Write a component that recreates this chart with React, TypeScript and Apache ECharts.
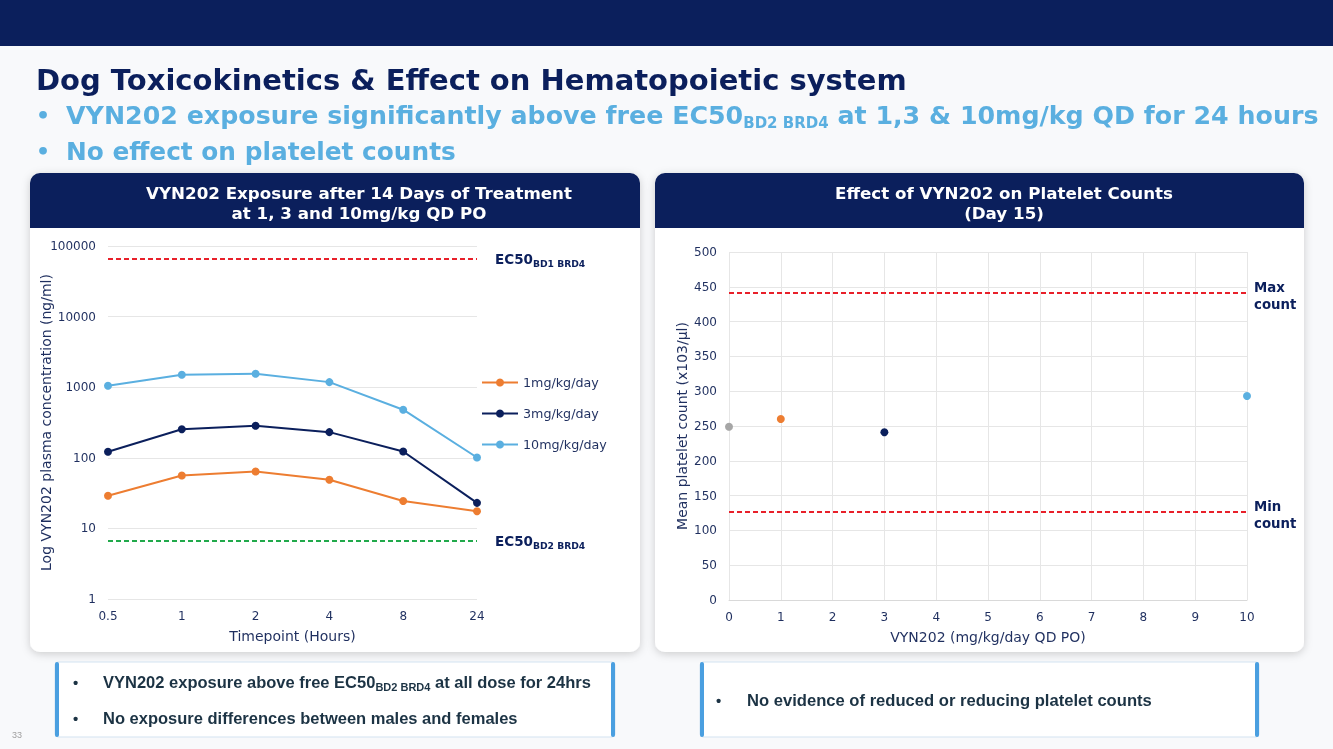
import React, { useEffect, useRef } from 'react';
import * as echarts from 'echarts';

// ---------- data ----------
const timepoints = ['0.5', '1', '2', '4', '8', '24'];
const seriesNames = ['1mg/kg/day', '3mg/kg/day', '10mg/kg/day'];
const dose1 = [29, 56, 64, 49, 24.5, 17.5];
const dose3 = [122, 254, 284, 231, 123, 23];
const dose10 = [1050, 1500, 1550, 1180, 480, 101];
const ec50BD1 = 65000;
const ec50BD2 = 6.6;

const plateletDose = [0, 1, 3, 10];
const plateletCount = [249, 260, 241, 293];
const maxCount = 442;
const minCount = 127.5;

// ---------- styles ----------
const NAVY = '#0b1f5c';
const ORANGE = '#ed7d31';
const LIGHT = '#5aafe0';
const GRAY = '#a6a6a6';
const TXT = '#1f2f5f';
const BOXTXT = '#1c3344';
const FONT = '"DejaVu Sans", Verdana, sans-serif';
const ARIAL = '"Liberation Sans", Arial, sans-serif';
const plateletColors = [GRAY, ORANGE, NAVY, LIGHT];
const lineColors = [ORANGE, NAVY, LIGHT];

export default function App() {
  const ref = useRef<HTMLDivElement>(null);
  useEffect(() => {
    if (!ref.current) return;
    const chart = echarts.init(ref.current, undefined, { renderer: 'svg' });

    const card = (x: number, w: number) => [
      {
        type: 'rect', z: -10,
        shape: { x, y: 173, width: w, height: 479, r: 10 },
        style: { fill: '#ffffff', shadowBlur: 8, shadowColor: 'rgba(0,0,0,0.18)', shadowOffsetY: 2 },
      },
      {
        type: 'rect', z: -9,
        shape: { x, y: 173, width: w, height: 55, r: [10, 10, 0, 0] },
        style: { fill: NAVY },
      },
    ];
    const box = (x: number, w: number) => [
      {
        type: 'rect', z: -10,
        shape: { x, y: 662, width: w, height: 75, r: 3 },
        style: { fill: '#ffffff', stroke: '#d3e3f1', lineWidth: 1 },
      },
      { type: 'rect', z: -9, shape: { x, y: 662, width: 4, height: 75, r: 2 }, style: { fill: '#4a9fe0' } },
      { type: 'rect', z: -9, shape: { x: x + w - 4, y: 662, width: 4, height: 75, r: 2 }, style: { fill: '#4a9fe0' } },
    ];
    const txt = (x: number, y: number, text: string, o: any = {}) => ({
      type: 'text', x, y,
      style: { text, fill: o.fill || NAVY, fontSize: o.fontSize || 16, fontWeight: o.fontWeight || 'bold',
        fontFamily: o.fontFamily || FONT, align: o.align || 'left', verticalAlign: 'middle', rich: o.rich },
    });

    const bulletRich = {
      a: { fontSize: 25.3, fontWeight: 'bold', fontFamily: FONT, fill: LIGHT, lineHeight: 30 },
      b: { fontSize: 15, fontWeight: 'bold', fontFamily: FONT, fill: LIGHT, lineHeight: 8, verticalAlign: 'bottom' },
    };
    const boxRich = {
      a: { fontSize: 16.5, fontWeight: 'bold', fontFamily: ARIAL, fill: BOXTXT, lineHeight: 20 },
      b: { fontSize: 11, fontWeight: 'bold', fontFamily: ARIAL, fill: BOXTXT, lineHeight: 6, verticalAlign: 'bottom' },
    };
    const ecRich = {
      a: { fontSize: 13.5, fontWeight: 'bold', fontFamily: FONT, color: NAVY, lineHeight: 18 },
      b: { fontSize: 9.2, fontWeight: 'bold', fontFamily: FONT, color: NAVY, lineHeight: 6, verticalAlign: 'bottom' },
    };

    const graphic = [
      { type: 'rect', z: -20, shape: { x: 0, y: 0, width: 1333, height: 749 }, style: { fill: '#f8f9fb' } },
      { type: 'rect', z: -19, shape: { x: 0, y: 0, width: 1333, height: 46 }, style: { fill: NAVY } },
      txt(36, 80, 'Dog Toxicokinetics & Effect on Hematopoietic system', { fontSize: 29 }),
      txt(36, 115, '•', { fontSize: 22, fill: LIGHT }),
      txt(66, 115, '{a|VYN202 exposure significantly above free EC50}{b|BD2 BRD4}{a| at 1,3 & 10mg/kg QD for 24 hours}', { rich: bulletRich }),
      txt(36, 151, '•', { fontSize: 22, fill: LIGHT }),
      txt(66, 151, 'No effect on platelet counts', { fontSize: 24.8, fill: LIGHT }),
      ...card(30, 610),
      ...card(655, 649),
      txt(359, 193, 'VYN202 Exposure after 14 Days of Treatment', { fontSize: 16.7, fill: '#ffffff', align: 'center' }),
      txt(359, 213, 'at 1, 3 and 10mg/kg QD PO', { fontSize: 16.7, fill: '#ffffff', align: 'center' }),
      txt(1004, 193, 'Effect of VYN202 on Platelet Counts', { fontSize: 16.7, fill: '#ffffff', align: 'center' }),
      txt(1004, 213, '(Day 15)', { fontSize: 16.7, fill: '#ffffff', align: 'center' }),
      ...box(55, 560),
      ...box(700, 559),
      txt(73, 682, '•', { fontSize: 15, fontFamily: ARIAL, fill: BOXTXT }),
      txt(103, 682, '{a|VYN202 exposure above free EC50}{b|BD2 BRD4}{a| at all dose for 24hrs}', { rich: boxRich }),
      txt(73, 718, '•', { fontSize: 15, fontFamily: ARIAL, fill: BOXTXT }),
      txt(103, 718, 'No exposure differences between males and females', { fontSize: 16.5, fontFamily: ARIAL, fill: BOXTXT }),
      txt(716, 700, '•', { fontSize: 15, fontFamily: ARIAL, fill: BOXTXT }),
      txt(747, 700, 'No evidence of reduced or reducing platelet counts', { fontSize: 16.6, fontFamily: ARIAL, fill: BOXTXT }),
      txt(12, 735, '33', { fontSize: 9, fontWeight: 'normal', fontFamily: ARIAL, fill: '#a0a0a0' }),
    ];

    const axisName = { color: TXT, fontSize: 14, fontFamily: FONT };
    const axisLabel = { color: TXT, fontSize: 12, fontFamily: FONT };
    const split = { show: true, lineStyle: { color: '#e6e6e6', width: 1 } };

    const lineData = [dose1, dose3, dose10];

    chart.setOption({
      animation: false,
      textStyle: { fontFamily: FONT },
      graphic,
      grid: [
        { left: 108, top: 246, width: 369, height: 353 },
        { left: 729, top: 252, width: 518, height: 348 },
      ],
      legend: {
        data: seriesNames, orient: 'vertical', left: 481, top: 376, padding: 0,
        itemWidth: 36, itemHeight: 10, itemGap: 18,
        textStyle: { color: TXT, fontSize: 12.7, fontFamily: FONT },
      },
      xAxis: [
        {
          gridIndex: 0, type: 'category', data: timepoints, boundaryGap: false,
          name: 'Timepoint (Hours)', nameLocation: 'middle', nameGap: 30, nameTextStyle: axisName,
          axisLine: { show: false }, axisTick: { show: false }, axisLabel: { ...axisLabel, margin: 11 },
          splitLine: { show: false },
        },
        {
          gridIndex: 1, type: 'value', min: 0, max: 10, interval: 1,
          name: 'VYN202 (mg/kg/day QD PO)', nameLocation: 'middle', nameGap: 30, nameTextStyle: axisName,
          axisLine: { show: true, lineStyle: { color: '#d9d9d9' } }, axisTick: { show: false },
          axisLabel: { ...axisLabel, margin: 11 }, splitLine: split,
        },
      ],
      yAxis: [
        {
          gridIndex: 0, type: 'log', logBase: 10, min: 1, max: 100000,
          name: 'Log VYN202 plasma concentration (ng/ml)', nameLocation: 'middle', nameGap: 55, nameMoveOverlap: false,
          nameTextStyle: axisName,
          axisLine: { show: false }, axisTick: { show: false },
          axisLabel: { ...axisLabel, margin: 12, formatter: (v: number) => String(Math.round(v)) },
          splitLine: split,
        },
        {
          gridIndex: 1, type: 'value', min: 0, max: 500, interval: 50,
          name: 'Mean platelet count (x103/µl)', nameLocation: 'middle', nameGap: 40, nameTextStyle: axisName,
          axisLine: { show: false }, axisTick: { show: false },
          axisLabel: { ...axisLabel, margin: 12 }, splitLine: split,
        },
      ],
      series: [
        ...seriesNames.map((name, i) => ({
          name, type: 'line', xAxisIndex: 0, yAxisIndex: 0, data: lineData[i],
          symbol: 'circle', symbolSize: 8,
          lineStyle: { color: lineColors[i], width: 2 }, itemStyle: { color: lineColors[i] },
          markLine: i === 0 ? {
            silent: true, symbol: 'none',
            lineStyle: { type: [5, 3], width: 2 },
            label: { show: true, position: 'end', distance: 18, rich: ecRich },
            data: [
              { yAxis: ec50BD1, lineStyle: { color: '#e8202a', type: [5, 3], width: 2 }, label: { formatter: '{a|EC50}{b|BD1 BRD4}' } },
              { yAxis: ec50BD2, lineStyle: { color: '#21a94b', type: [5, 3], width: 2 }, label: { formatter: '{a|EC50}{b|BD2 BRD4}' } },
            ],
          } : undefined,
        })),
        {
          name: 'platelets', type: 'scatter', xAxisIndex: 1, yAxisIndex: 1, symbolSize: 8,
          data: plateletDose.map((d, i) => ({ value: [d, plateletCount[i]], itemStyle: { color: plateletColors[i], opacity: 1 } })),
          markLine: {
            silent: true, symbol: 'none',
            lineStyle: { color: '#e8202a', type: [5, 3], width: 2 },
            label: {
              show: true, position: 'end', distance: 7, color: NAVY, fontWeight: 'bold',
              fontSize: 13.3, lineHeight: 17, fontFamily: FONT, offset: [0, 4],
            },
            data: [
              { yAxis: maxCount, label: { formatter: 'Max\ncount' } },
              { yAxis: minCount, label: { formatter: 'Min\ncount' } },
            ],
          },
        },
      ],
    });
    return () => chart.dispose();
  }, []);
  return <div ref={ref} style={{ position: 'fixed', left: 0, top: 0, width: 1333, height: 749 }} />;
}
